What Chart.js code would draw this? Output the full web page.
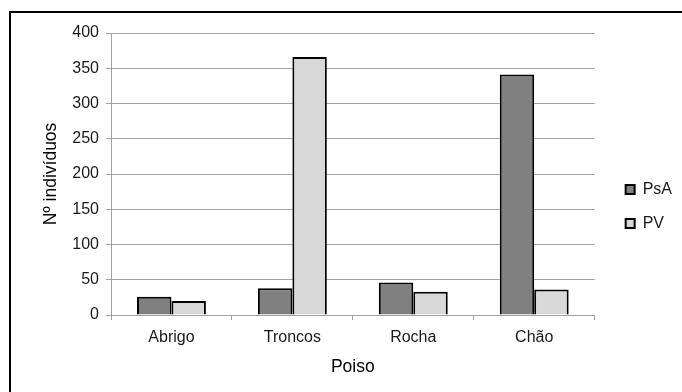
<!DOCTYPE html>
<html>
<head>
<meta charset="utf-8">
<script src="https://cdn.jsdelivr.net/npm/chart.js@4"></script>
<style>
  html, body { margin: 0; padding: 0; background: #fff; overflow: hidden; }
  #wrap { position: relative; width: 682px; height: 392px; overflow: hidden; }
  #frame { position: absolute; left: 9px; top: 11px; width: 700px; height: 420px;
           border: 2px solid #000; box-sizing: border-box; pointer-events: none; }
  canvas { position: absolute; left: 0; top: 0; }
</style>
</head>
<body>
<div id="wrap">
  <canvas id="chart" width="682" height="392"></canvas>
  <div id="frame"></div>
</div>
<script>
// Individuals counted per perch type (poiso), for each group
const categories = ['Abrigo', 'Troncos', 'Rocha', 'Chão'];
const psA = [26, 38, 46, 341];
const pv = [20, 366, 33, 36];
const seriesNames = ['PsA', 'PV'];
const yTicks = [0, 50, 100, 150, 200, 250, 300, 350, 400];

const FONT = '"Liberation Sans", Arial, sans-serif';
const gridGray = '#a3a3a3';

new Chart(document.getElementById('chart'), {
  type: 'bar',
  data: {
    labels: categories,
    datasets: [
      { label: seriesNames[0], data: psA, backgroundColor: '#808080',
        borderColor: '#000', borderWidth: 2 },
      { label: seriesNames[1], data: pv, backgroundColor: '#d9d9d9',
        borderColor: '#000', borderWidth: 2 }
    ]
  },
  options: {
    responsive: false,
    animation: false,
    devicePixelRatio: 1,
    layout: { padding: { top: 33, left: 0, right: 0, bottom: 12 } },
    datasets: { bar: { categoryPercentage: 0.57, barPercentage: 1.0 } },
    plugins: {
      tooltip: { enabled: false },
      legend: {
        position: 'right',
        align: 'center',
        labels: {
          boxWidth: 9, boxHeight: 9, padding: 18, color: '#1a1a1a',
          font: { family: FONT, size: 16 }
        }
      }
    },
    scales: {
      x: {
        grid: { display: true, drawOnChartArea: false, drawTicks: true,
                tickLength: 5, color: gridGray, offset: true },
        border: { display: true, color: gridGray },
        ticks: { color: '#1a1a1a', padding: 8, font: { family: FONT, size: 16 } },
        title: { display: true, text: 'Poiso', color: '#000',
                 padding: { top: 0, bottom: 2.5 },
                 font: { family: FONT, size: 17.5 } },
        afterFit(s) { s.height = 65; }
      },
      y: {
        min: 0, max: 400,
        afterBuildTicks(s) { s.ticks = yTicks.map(v => ({ value: v })); },
        grid: { color: gridGray, tickLength: 5, drawTicks: true },
        border: { display: true, color: gridGray },
        ticks: { color: '#1a1a1a', padding: 7, font: { family: FONT, size: 16 } },
        title: { display: true, text: 'Nº indivíduos', color: '#000',
                 padding: { top: 41, bottom: 0 },
                 font: { family: FONT, size: 17.5 } },
        afterFit(s) { s.width = 111; }
      },
      // empty right-hand gutter between the plot and the legend
      gap: {
        position: 'right',
        display: true,
        grid: { display: false },
        border: { display: false },
        ticks: { display: false },
        afterFit(s) { s.width = 13; }
      }
    }
  }
});
</script>
</body>
</html>
